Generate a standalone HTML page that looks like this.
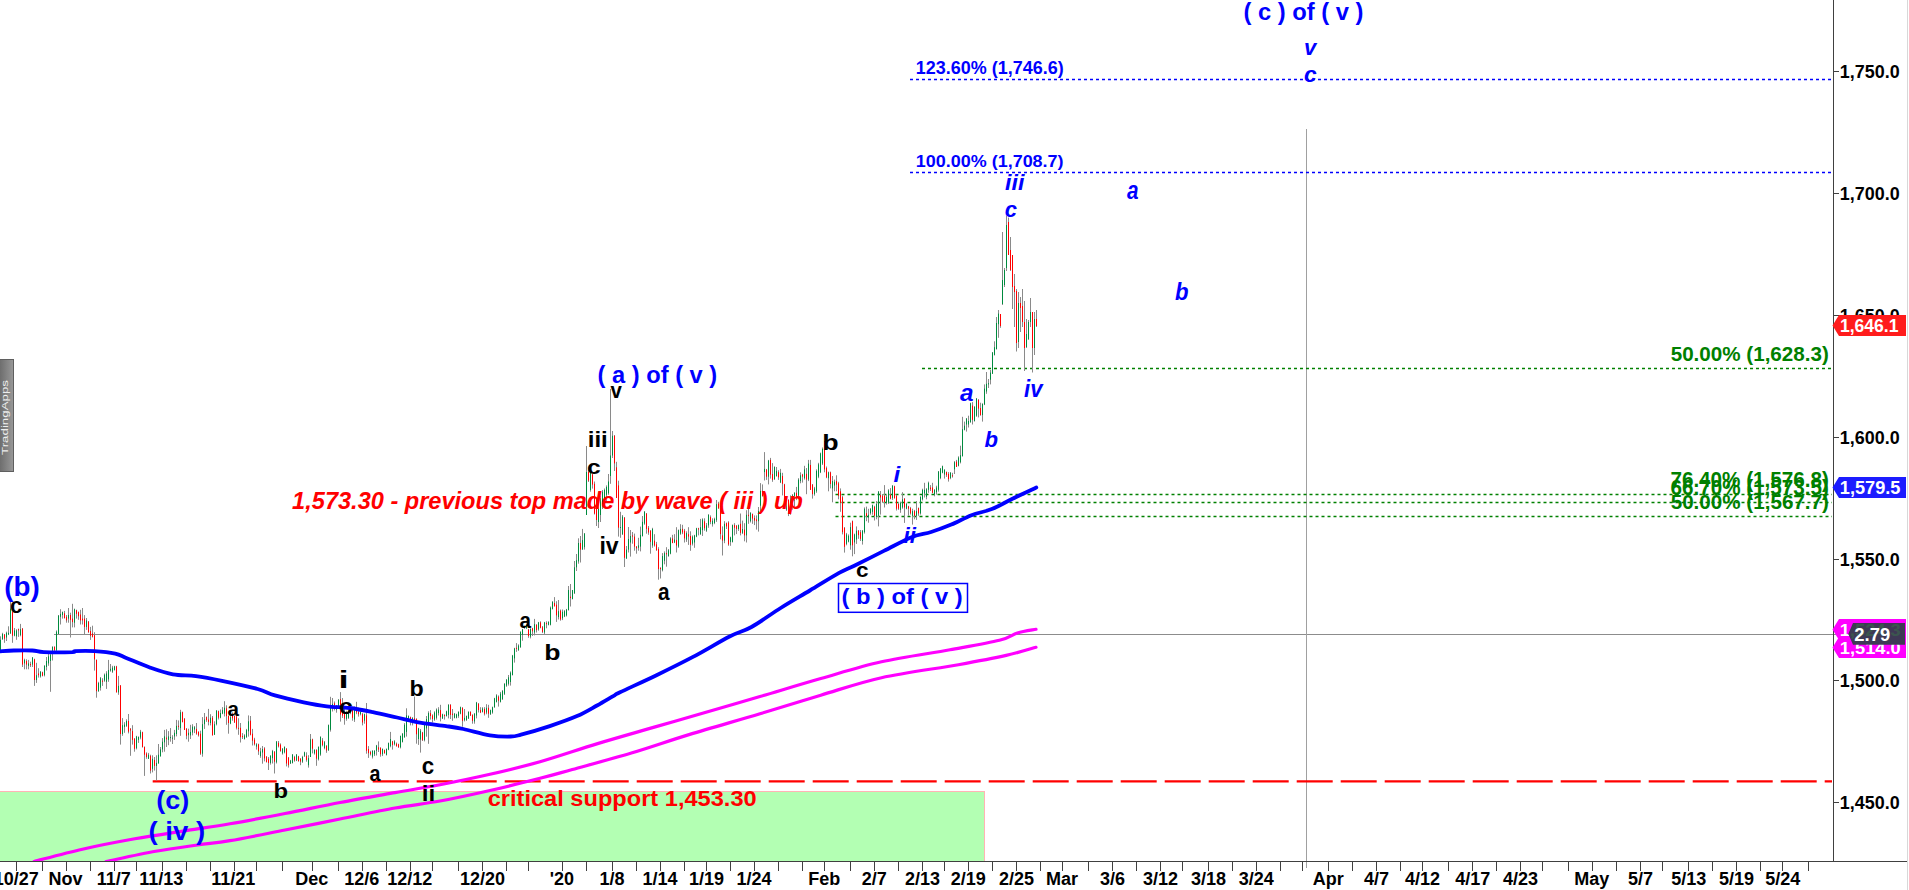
<!DOCTYPE html>
<html><head><meta charset="utf-8"><title>Chart</title>
<style>html,body{margin:0;padding:0;background:#fff;overflow:hidden;width:1909px;height:890px}svg{display:block}text{font-family:"Liberation Sans",sans-serif}</style>
</head><body><svg width="1909" height="890" viewBox="0 0 1909 890" font-family="Liberation Sans, sans-serif"><rect x="0" y="0" width="1909" height="890" fill="#ffffff"/><rect x="0" y="791" width="985" height="70" fill="#b3ffb3"/><rect x="0" y="791" width="985" height="1" fill="#ffb4b4"/><rect x="984" y="791" width="1" height="70" fill="#ffb4b4"/><rect x="54" y="634" width="1794" height="1" fill="#8c8c8c"/><rect x="1306" y="129" width="1" height="739" fill="#a0a0a0"/><line x1="910" y1="79.5" x2="1832" y2="79.5" stroke="#0000ff" stroke-width="1.5" stroke-dasharray="3 3"/><line x1="910" y1="172.5" x2="1832" y2="172.5" stroke="#0000ff" stroke-width="1.5" stroke-dasharray="3 3"/><line x1="922" y1="368.5" x2="1832" y2="368.5" stroke="#008000" stroke-width="1.5" stroke-dasharray="3 3"/><line x1="835.5" y1="494.5" x2="1832" y2="494.5" stroke="#008000" stroke-width="1.5" stroke-dasharray="3 3"/><line x1="835.5" y1="502.5" x2="1832" y2="502.5" stroke="#008000" stroke-width="1.5" stroke-dasharray="3 3"/><line x1="835.5" y1="516.5" x2="1832" y2="516.5" stroke="#008000" stroke-width="1.5" stroke-dasharray="3 3"/><line x1="152.7" y1="781.3" x2="1832" y2="781.3" stroke="#ff0000" stroke-width="2.2" stroke-dasharray="36 8"/><path d="M0.5 636.3V650.5M2.5 632.8V639.8M4.5 634V642.8M6.5 631.6V641M8.5 626.3V635.1M10.5 602V634M12.5 611.5V642.8M14.5 628V636.3M16.5 629.2V639.8M18.5 628.6V636.9M20.5 623.9V636.3M22.5 628V667M24.5 658.7V669.3M26.5 659.3V669.3M28.5 659.9V669.3M30.5 661.7V667M32.5 657V667M34.5 658.7V685.9M36.5 662.8V682.9M38.5 668.2V677.6M40.5 671.1V677.6M42.5 671.7V676.4M44.5 665.2V676.4M46.5 657V670.5M48.5 654V665.8M50.5 654V691.8M52.5 646.3V660.5M54.5 646.3V650.5M56.5 630.4V650.5M58.5 615V634M60.5 609.2V624.5M62.5 611.5V618.6M64.5 610.9V618.6M66.5 615V622.7M68.5 608V622.7M70.5 612.7V637.5M72.5 603.8V627.4M74.5 608.6V627.4M76.5 609.7V618.6M78.5 611.5V619.8M80.5 609.8V624.5M82.5 608V624.5M84.5 615.1V634.6M86.5 618V629.9M88.5 621V632.8M90.5 626.9V639.9M92.5 625.7V637.5M94.5 632.2V670.6M96.5 659.4V697.7M98.5 681.8V691.8M100.5 677V690.6M102.5 678.2V685.9M104.5 673.5V681.8M106.5 671.2V688.9M108.5 659.9V681.8M110.5 664V671.7M112.5 665.8V672.9M114.5 665.8V670.6M116.5 665.8V692.4M118.5 675.9V694.8M120.5 685.3V744.6M122.5 718.1V735.8M124.5 722.2V732.8M126.5 719.3V726.9M128.5 714V733.4M130.5 728.1V755.8M132.5 725.2V744.6M134.5 738.1V751.7M136.5 735.8V749.4M138.5 736.4V742.9M140.5 729.9V739.3M142.5 731.7V747.6M144.5 746.4V775.9M146.5 752.3V758.8M148.5 752.9V758.8M150.5 754.7V773.5M152.5 755.3V772.4M154.5 757V770.6M156.5 755.3V780.6M158.5 744V763.5M160.5 747V756.4M162.5 738.1V752.3M164.5 729.9V751.7M166.5 729.3V747M168.5 731.1V745.2M170.5 728.1V741.7M172.5 735.2V744M174.5 729.9V739.9M176.5 719.9V736.4M178.5 720.4V729.9M180.5 709.8V735.8M182.5 711.6V722.2M184.5 718.1V729.9M186.5 728.1V739.3M188.5 728.7V741.7M190.5 724.8V739M192.5 724.2V735.4M194.5 726V733.1M196.5 723V734.8M198.5 731.3V736.6M200.5 730.7V754.9M202.5 717.1V756.7M204.5 713V728.9M206.5 716.5V721.9M208.5 708.9V725.4M210.5 714.2V725.4M212.5 716V735.4M214.5 721.3V734.8M216.5 710.1V725.4M218.5 710.6V719.5M220.5 709.5V718.3M222.5 707.1V714.2M224.5 701.2V716.5M226.5 705.3V724.8M228.5 715.4V733.7M230.5 713V724.2M232.5 712.4V720.7M234.5 715.4V723M236.5 716V729.5M238.5 718.3V734.8M240.5 723V742.5M242.5 733.1V739M244.5 734.2V739.6M246.5 728.9V737.8M248.5 715.4V736.6M250.5 716V735.4M252.5 728.9V745.5M254.5 737.8V745.5M256.5 743.1V749.6M258.5 743.7V754.9M260.5 747.8V757.8M262.5 746V763.7M264.5 747.2V761.4M266.5 756.1V762.6M268.5 757V770M270.5 755.2V764.6M272.5 749.9V763.5M274.5 751.1V773.5M276.5 741V763.5M278.5 741V747.5M280.5 743.4V751.7M282.5 748.1V754.6M284.5 746.4V753.4M286.5 748.1V766.4M288.5 757V767.6M290.5 759.9V764M292.5 754V763.5M294.5 755.8V761.7M296.5 754V761.1M298.5 755.8V761.7M300.5 758.2V765.2M302.5 755.8V762.9M304.5 751.7V757M306.5 752.3V761.7M308.5 755.2V767.6M310.5 734V757M312.5 738.7V753.4M314.5 749.3V754.6M316.5 749.3V765.8M318.5 746.4V760.5M320.5 736.3V755.8M322.5 738.1V746.4M324.5 741V749.3M326.5 745.2V752.8M328.5 724.5V750.5M330.5 696.8V731.6M332.5 698V711.5M334.5 701.5V710.4M336.5 705.1V712.7M338.5 699.2V708M340.5 692.1V721.6M342.5 698V718M344.5 707V724.7M346.5 710.7V720.7M348.5 710.1V718.9M350.5 708.3V714.2M352.5 707.7V720.7M354.5 706.5V721.9M356.5 701.8V714.2M358.5 707.7V716.6M360.5 711.3V715.4M362.5 713V725.4M364.5 713.6V723.7M366.5 703V753.7M368.5 746.1V757.9M370.5 750.8V755.5M372.5 750.2V758.5M374.5 750.2V756.1M376.5 744.9V755.5M378.5 741.4V752M380.5 747.3V756.7M382.5 748.4V756.1M384.5 749.6V753.7M386.5 748.4V755.5M388.5 742.5V750.2M390.5 731.9V747.3M392.5 740.8V749.6M394.5 740.2V745.5M396.5 742.5V746.7M398.5 743.7V747.8M400.5 735.5V748.4M402.5 733.1V742.5M404.5 723.1V737.8M406.5 708.3V736.6M408.5 715.4V721.9M410.5 716.6V725.4M412.5 717.2V725.4M414.5 696.5V721.3M416.5 718.3V743.7M418.5 727.8V744.9M420.5 729V752.6M422.5 731.9V741M424.5 723.7V741.4M426.5 716V736.7M428.5 711.3V743.8M430.5 710.1V719.6M432.5 714.3V722.5M434.5 711.3V720.8M436.5 708.4V719.6M438.5 707.2V715.5M440.5 704.8V721.4M442.5 713.7V719M444.5 714.3V719.6M446.5 710.7V716.6M448.5 704.2V718.4M450.5 704.2V719M452.5 709V720.8M454.5 713.1V718.4M456.5 713.7V718.4M458.5 711.3V717.8M460.5 706.6V714.3M462.5 707.2V726.7M464.5 709V721.4M466.5 715.5V720.8M468.5 711.3V719M470.5 711.3V716M472.5 714.3V723.7M474.5 713.1V723.7M476.5 701.9V718.4M478.5 703.1V712.5M480.5 707.2V713.1M482.5 707.2V712.5M484.5 707.2V715.5M486.5 704.2V714.3M488.5 704.8V717.8M490.5 709.6V714.9M492.5 706.6V713.7M494.5 697.8V707.8M496.5 694.2V702.5M498.5 695.4V706.6M500.5 691.9V702.5M502.5 690V700M504.5 683.2V695M506.5 679.1V686.8M508.5 675V685.6M510.5 671.4V685.6M512.5 654.9V675.5M514.5 647.8V662.6M516.5 643.1V651.9M518.5 644.3V650.8M520.5 631.3V647.8M522.5 628.9V640.7M524.5 625.4V628.9M526.5 624.2V628.9M528.5 628.9V637.8M530.5 628.3V638.4M532.5 627.8V636M534.5 618.9V635.4M536.5 624.2V632.5M538.5 621.9V630.7M540.5 621.3V628.3M542.5 626V633.1M544.5 621.9V634.2M546.5 621.3V628.3M548.5 621.3V625.4M550.5 606.5V625.4M552.5 601.2V609.5M554.5 597.1V605.9M556.5 601.2V621.9M558.5 600V619.5M560.5 609.5V620.7M562.5 609.5V620.1M564.5 610.1V617.1M566.5 608.9V616.5M568.5 586V610.6M570.5 584V606.5M572.5 590V599.4M574.5 561V594M576.5 554V571M578.5 538.3V563.7M580.5 536V562.5M582.5 528.9V549.6M584.5 533V549.6M586.5 446V515M588.5 469.7V482M590.5 470.5V491.7M592.5 473.6V488.6M594.5 481.5V514.5M596.5 497V526M598.5 496.4V528M600.5 495.6V522M602.5 490V509M604.5 488.5V502.7M606.5 485.4V501M608.5 474V494.8M610.5 389V483.8M612.5 431V458M614.5 435V471M616.5 461.8V498M618.5 480.7V536.6M620.5 511.8V537.8M622.5 515V535M624.5 517V567M626.5 546V559M628.5 527V552.5M630.5 530V556.6M632.5 532V543.7M634.5 533.6V550.7M636.5 546V553.7M638.5 537.8V550.7M640.5 526.6V551.4M642.5 516V536.6M644.5 511V524.8M646.5 513V533.7M648.5 526V534.8M650.5 530.1V553.7M652.5 527.8V547.8M654.5 534.2V546.6M656.5 541.9V550.8M658.5 547.2V579.7M660.5 567.3V578.5M662.5 553.1V571.4M664.5 551.4V564.3M666.5 547.2V566.7M668.5 549V556.7M670.5 537.2V554.3M672.5 534.8V543.1M674.5 534.2V543.1M676.5 527.2V552.5M678.5 529.5V547.8M680.5 524.2V534.8M682.5 524.8V534.2M684.5 528.9V542.5M686.5 531.3V541.9M688.5 527.2V544.9M690.5 531.3V550.8M692.5 535.4V545.5M694.5 534.8V547.8M696.5 527.8V537.2M698.5 527.8V535.4M700.5 518.9V534.8M702.5 518.3V536M704.5 518.3V530.7M706.5 523V531.9M708.5 514.2V527.8M710.5 515.4V524.2M712.5 518.3V526.6M714.5 517.7V524.2M716.5 500V521.9M718.5 501.8V508.9M720.5 505.7V539.3M722.5 526.4V555.5M724.5 521.2V543.2M726.5 522.5V529M728.5 521.2V545.8M730.5 536.7V545.8M732.5 524.5V542.5M734.5 523.2V535.4M736.5 525.1V534.1M738.5 524.5V530.9M740.5 513.5V535.4M742.5 520.6V534.1M744.5 523.2V541.3M746.5 510.2V542.5M748.5 503.1V523.8M750.5 512.2V522.5M752.5 513.5V523.8M754.5 515.4V525.1M756.5 515.4V529.6M758.5 507V531.6M760.5 483.1V510.9M762.5 484.4V496.7M764.5 452.1V480.5M766.5 468.9V479.9M768.5 459.9V484.4M770.5 457.9V478.6M772.5 463.1V481.8M774.5 466.3V479.9M776.5 467V476.7M778.5 470.2V479.9M780.5 468.9V483.1M782.5 472.8V495.4M784.5 483.8V503.8M786.5 498.6V510.9M788.5 499.3V516.1M790.5 495.4V514.8M792.5 494.1V509.6M794.5 492.2V507M796.5 486.9V500.1M798.5 478.2V497.2M800.5 472.3V483.3M802.5 473.8V482.6M804.5 465.8V479.6M806.5 468V494.2M808.5 459.9V481.1M810.5 459.9V489.9M812.5 484V498.6M814.5 486.9V495.7M816.5 469.4V492.8M818.5 462.8V478.2M820.5 452.6V473.1M822.5 447.5V465M824.5 441V472.3M826.5 466.5V478.2M828.5 471.6V491.3M830.5 471.6V488.4M832.5 476V502.3M834.5 479.6V491.3M836.5 475.3V491.3M838.5 481.8V499.3M840.5 488.4V511.8M842.5 495.7V534.4M844.5 527.1V552.6M846.5 532.9V545.3M848.5 534.4V542.4M850.5 522.7V549.7M852.5 520.5V556.3M854.5 533.6V554.1M856.5 526.4V543.9M858.5 530V538.8M860.5 530V541M862.5 530V544.6M864.5 507.4V533.6M866.5 506.6V521.2M868.5 508.8V522.7M870.5 508.1V514.7M872.5 504.5V514.7M874.5 505.8V520.5M876.5 501V519.3M878.5 491V526.4M880.5 491V514.6M882.5 494V502.8M884.5 485.1V507.5M886.5 494.6V504.6M888.5 489.2V504M890.5 488.1V499.3M892.5 485.1V499.9M894.5 485.7V498.7M896.5 494.6V510.5M898.5 502.8V509.9M900.5 501.6V512.8M902.5 492.2V508.7M904.5 498.1V522.9M906.5 502.8V509.3M908.5 505.8V515.8M910.5 506.9V514.6M912.5 508.7V524.6M914.5 509.9V519.3M916.5 501V519.9M918.5 507.5V515.8M920.5 496.3V514.6M922.5 488.7V500.5M924.5 482.8V497.5M926.5 488.1V499.3M928.5 481.6V492.8M930.5 485.1V491M932.5 482.8V493.4M934.5 489.2V496.3M936.5 485.7V494.6M938.5 471V491.6M940.5 468V479.2M942.5 465.6V473.3M944.5 469.2V478.6M946.5 471.5V476.9M948.5 472.1V481.6M950.5 472.1V479.2M952.5 472.8V477.6M954.5 461.1V474M956.5 459.9V466.9M958.5 456.3V466.4M960.5 445.7V463.4M962.5 416.8V456.3M964.5 421.6V430.4M966.5 418V431.6M968.5 415.7V427.5M970.5 402.7V422.7M972.5 402.1V424.5M974.5 406.2V421.6M976.5 398V416.8M978.5 399.2V417.4M980.5 402.7V415.7M982.5 403.3V421.6M984.5 384.4V405.1M986.5 372V393.8M988.5 379V388M990.5 370V384.4M992.5 352V373.8M994.5 341.3V355.5M996.5 317V349.6M998.5 310V337.8M1000.5 314V327.8M1002.5 232V305M1004.5 268V287M1006.5 215.5V271M1008.5 217.6V255M1010.5 237V271M1012.5 255V309M1014.5 274V327M1016.5 289V351.5M1018.5 292V348M1020.5 297V332M1022.5 289V327M1024.5 301V371M1026.5 319V348M1028.5 320V340M1030.5 298V327M1032.5 312V372.5M1034.5 312V355M1036.5 310V327" stroke="#8a8a8a" stroke-width="1" fill="none"/><path d="M0.5 639.8V650.5M2.5 634V639.2M6.5 632.8V637.5M8.5 632.8V634.5M10.5 608.6V633.3M14.5 630.4V635.7M16.5 630.4V636.3M20.5 629.2V635.1M24.5 659.9V663.4M28.5 663.4V665.8M32.5 657.5V664.6M36.5 675.2V680M40.5 671.7V676.4M44.5 665.8V675.2M46.5 661V667M48.5 656.4V663.4M50.5 654.6V661M52.5 646.9V650.5M56.5 631.6V650.5M58.5 615.6V634M60.5 613.9V616.8M62.5 612.1V615M68.5 615V618.6M74.5 609.2V622.7M86.5 620.4V626.9M98.5 683V691.2M100.5 678.2V687.7M104.5 674.7V680.6M106.5 673.5V681.8M108.5 670V679.4M110.5 668.8V670.6M112.5 667.6V671.7M114.5 666.4V670M118.5 685.9V692.4M122.5 725.2V734M124.5 724.6V726.9M126.5 721V725.8M136.5 736.4V748.2M138.5 737V739.9M140.5 731.7V737.6M148.5 754.7V758.8M152.5 758.8V768.8M156.5 762.9V765.9M158.5 754.7V763.5M160.5 749.4V756.4M162.5 741.7V749.4M164.5 736.4V742.3M168.5 736.4V739.9M170.5 737V738.1M172.5 737.6V738.7M174.5 732.8V736.4M176.5 725.8V734M180.5 712.2V728.1M188.5 732.8V735.2M190.5 731.9V735.4M192.5 726.6V732.5M194.5 727.2V729.5M202.5 724.2V753.7M204.5 719.5V724.2M210.5 717.7V723M214.5 724.2V734.8M216.5 710.6V724.2M220.5 713V717.7M222.5 710.1V713.6M224.5 707.7V713.6M230.5 717.1V723.6M244.5 735.4V739M246.5 730.1V737.2M248.5 721.3V731.3M256.5 744.3V746.6M260.5 751.4V756.1M262.5 749V752.5M270.5 755.8V762.9M272.5 751.1V758.2M276.5 741.6V762.3M282.5 748.7V753.4M284.5 746.9V752.3M290.5 760.5V763.5M292.5 754.6V762.9M296.5 754.6V760.5M302.5 757V761.7M304.5 752.3V755.8M308.5 758.2V765.2M310.5 739.3V757M314.5 749.9V753.4M318.5 746.9V759.3M320.5 736.9V754.6M324.5 742.2V748.1M328.5 725.1V750.5M330.5 706.8V729.8M332.5 703.9V708.6M336.5 705.6V709.8M338.5 699.7V707.4M346.5 713V718.9M348.5 713V717.8M350.5 709.5V713M354.5 709.5V719.5M360.5 711.9V714.2M364.5 714.2V720.7M372.5 750.8V756.7M374.5 750.8V754.3M376.5 745.5V750.8M382.5 749V754.3M386.5 749V754.9M388.5 743.1V749.6M390.5 739V746.1M394.5 741.4V744.3M400.5 736V747.3M402.5 733.7V741.9M404.5 724.8V737.2M406.5 715.4V731.9M408.5 716V720.1M412.5 717.8V722.5M418.5 728.4V739M420.5 730.7V739.6M424.5 724.9V740.2M426.5 719V728.4M428.5 713.1V723.7M434.5 712.5V719.6M436.5 709.6V717.8M438.5 709.6V713.1M442.5 714.3V718.4M446.5 711.3V716M448.5 704.8V714.9M454.5 713.7V717.8M456.5 714.3V717.8M458.5 711.9V716M460.5 707.2V713.7M464.5 717.8V720.2M466.5 716V720.2M468.5 711.9V718.4M474.5 713.7V721.4M476.5 702.5V715.5M482.5 708.4V711.9M486.5 707.8V712.5M490.5 710.1V714.3M492.5 707.2V712.5M494.5 698.3V707.2M496.5 695.4V701.9M500.5 693.6V701.9M502.5 691V699M504.5 683.8V693.8M506.5 679.7V685.6M508.5 677.3V683.8M510.5 672.6V682M512.5 655.5V675M514.5 648.4V658.4M518.5 645.5V650.2M520.5 631.9V647.2M522.5 629.5V634.8M526.5 625.4V628.3M530.5 628.9V636.6M534.5 624.2V632.5M538.5 622.4V629.5M544.5 622.4V632.5M548.5 621.9V624.8M550.5 607.7V624.8M552.5 601.8V608.9M558.5 611.2V617.1M562.5 611.8V618.3M564.5 611.2V616.5M566.5 609.5V615.4M568.5 590V610M572.5 590V599M574.5 567.3V593.2M576.5 560.2V567.3M578.5 543V561.4M582.5 540.1V549.6M584.5 533.6V547.2M586.5 472V515M590.5 471.2V490M598.5 500V522M600.5 498V515M602.5 491.7V504.3M604.5 490V499.6M606.5 487V494.8M608.5 481.5V493.3M610.5 455.5V476M612.5 435.8V455.5M620.5 527V528M622.5 516.5V534.2M626.5 549.6V558.4M628.5 539V549.6M630.5 536V542.5M638.5 545.4V547.8M640.5 534.8V546.6M642.5 521.8V536M644.5 511.8V523.6M652.5 528.9V545.5M662.5 556.1V570.2M664.5 553.1V560.8M668.5 550.2V556.1M670.5 538.4V553.7M674.5 539.6V542.5M678.5 530.1V546.6M680.5 528.9V533.7M686.5 533.1V539.6M692.5 536.6V543.7M694.5 535.4V542.5M696.5 528.3V536.6M700.5 527.2V534.2M702.5 519.5V530.1M706.5 525.4V530.7M708.5 514.8V525.4M712.5 520.7V524.2M714.5 518.9V523M716.5 504.2V520.1M724.5 523.8V540.6M730.5 537.4V541.9M732.5 525.1V541.9M738.5 525.1V529M742.5 529V532.9M746.5 514.8V535.4M750.5 512.8V521.2M758.5 510.9V521.2M760.5 490.9V505.7M764.5 468.9V472.1M768.5 460.5V476.7M774.5 467V479.2M776.5 470.8V476M780.5 472.8V482.5M786.5 499.3V509.6M792.5 495.4V503.1M794.5 492.8V500.6M798.5 479.6V495.7M800.5 475.3V481.1M804.5 469.4V478.2M808.5 463.6V479.6M814.5 488.4V494.2M816.5 470.9V491.3M818.5 464.3V476.7M820.5 453.4V472.3M822.5 449V463.6M828.5 472.3V478.2M832.5 481.1V488.4M834.5 481.8V485.5M846.5 534.4V543.9M848.5 535.8V541.7M850.5 527.1V545.3M854.5 534.4V542.4M856.5 530.7V539.5M862.5 530.7V541M864.5 508.8V532.2M868.5 514.7V517.6M870.5 508.8V513.2M872.5 505.2V511.8M876.5 504V517M878.5 491.6V515.8M886.5 496.9V502.8M888.5 490.4V502.8M892.5 485.7V498.1M900.5 502.8V509.9M902.5 499.3V507.5M906.5 504V508.7M912.5 511.1V515.8M916.5 511.1V515.8M920.5 496.9V513.4M922.5 489.8V499.3M924.5 489.8V493.4M926.5 489.2V496.9M928.5 482.8V489.8M934.5 489.8V494.6M936.5 487.5V492.2M938.5 471.5V489.8M940.5 468.6V478M942.5 466.2V472.7M944.5 469.8V474.5M950.5 472.7V478M954.5 462.2V469.3M958.5 457.5V465.8M960.5 455.2V462.2M962.5 429.2V456.3M964.5 425.7V429.8M966.5 418.6V424.5M968.5 421V424.5M970.5 403.3V422.2M974.5 406.8V421M976.5 398.6V415.7M982.5 403.9V415.1M984.5 388.6V404.5M986.5 383.8V391.5M988.5 383.2V384.4M990.5 372.6V379.7M992.5 352.5V373.8M994.5 347.2V354.9M996.5 323V349M998.5 313.6V324.2M1002.5 280V304M1004.5 270V285M1006.5 225V268M1018.5 303V342M1026.5 334V347M1028.5 322V339M1030.5 312V322M1034.5 319V348" stroke="#008a3e" stroke-width="1" fill="none"/><path d="M4.5 634.5V638.7M12.5 612.1V635.7M18.5 629.2V630.4M22.5 628.6V664.6M26.5 661V664.6M30.5 664V665.2M34.5 659.3V680M38.5 673.5V675.2M42.5 672.3V675.8M54.5 646.9V650.5M64.5 613.3V618M66.5 616.8V620.4M70.5 615V619.8M72.5 618.6V622.1M76.5 610.3V613.9M78.5 612.1V616.2M80.5 614.5V620.4M82.5 618.6V620.4M84.5 618.6V626.9M88.5 621.6V632.2M90.5 631V635.8M92.5 633.4V636.9M94.5 635.2V659.4M96.5 660V691.2M102.5 680.6V681.8M116.5 666.4V692.4M120.5 685.3V734M128.5 721V731.7M130.5 728.7V730.5M132.5 731.1V739.9M134.5 738.7V748.8M142.5 732.2V747M144.5 747V754.7M146.5 753.5V757M150.5 755.8V770.6M154.5 760V765.9M166.5 737.6V739.3M178.5 725.8V726.9M182.5 712.2V722.2M184.5 718.7V729.9M186.5 728.7V735.8M196.5 728.9V733.7M198.5 731.9V735.4M200.5 733.7V753.7M206.5 717.1V720.1M208.5 719.5V721.9M212.5 717.7V735.4M218.5 711.2V717.7M226.5 708.3V716M228.5 716V723M232.5 713.6V718.3M234.5 716V722.4M236.5 716.5V727.8M238.5 727.8V728.9M240.5 727.8V737.2M242.5 736V737.2M250.5 720.7V734.8M252.5 733.7V740.7M254.5 739.6V744.3M258.5 744.3V751.4M264.5 748.4V758.4M266.5 756.7V762M268.5 758.7V762.9M274.5 751.7V761.7M278.5 742.8V746.4M280.5 744.6V751.1M286.5 748.7V763.5M288.5 757.6V765.2M294.5 757V760.5M298.5 756.4V761.1M300.5 758.7V761.7M306.5 755.8V759.9M312.5 739.3V748.7M316.5 749.9V758.7M322.5 740.5V745.2M326.5 745.8V750.5M334.5 703.3V705.1M340.5 699.2V714.5M342.5 703.9V715.7M344.5 713.9V718.6M352.5 708.9V717.8M356.5 708.9V712.4M358.5 711.9V714.2M362.5 714.2V722.5M366.5 715.4V750.8M368.5 749V753.2M370.5 752V754.3M378.5 747.3V749.6M380.5 747.8V754.3M384.5 750.2V753.2M392.5 741.4V744.9M396.5 743.7V746.1M398.5 744.3V747.3M410.5 717.2V721.9M414.5 718.3V720.7M416.5 718.9V734.3M422.5 732.5V740.2M430.5 713.1V716M432.5 715.5V719M440.5 710.1V717.2M444.5 714.9V716M450.5 704.8V714.9M452.5 713.7V714.9M462.5 707.8V720.8M470.5 711.9V715.5M472.5 714.9V720.8M478.5 703.7V710.1M480.5 710.1V712.5M484.5 709V713.7M488.5 707.8V713.7M498.5 696.6V700.7M516.5 647.8V649M524.5 626.6V627.8M528.5 629.5V636M532.5 628.3V631.3M536.5 624.8V630.1M540.5 622.4V627.8M542.5 627.2V631.9M546.5 623V624.2M554.5 603V606.5M556.5 604.7V615.4M560.5 610.6V619.5M570.5 596.7V598M580.5 543V549.6M588.5 472V480.7M592.5 474.4V484.6M594.5 483.8V513.7M596.5 499.6V520M614.5 435.8V463.4M616.5 467.3V498M618.5 485.4V527.7M624.5 517.7V557.8M632.5 535.4V536.6M634.5 536.6V546.6M636.5 546.6V548.4M646.5 513.6V528.9M648.5 527.8V532.5M650.5 530.7V541.9M654.5 540.7V545.5M656.5 544.3V550.2M658.5 549V569.1M660.5 567.9V569.1M666.5 553.1V554.3M672.5 538.4V543.1M676.5 540.1V545.5M682.5 528.9V532.5M684.5 530.7V538.4M688.5 534.2V536.6M690.5 536V544.9M698.5 528.3V529.5M704.5 521.3V528.3M710.5 517.1V521.9M718.5 503.6V508.3M720.5 506.4V534.1M722.5 535.4V540.6M726.5 523.2V526.4M728.5 522.5V544.5M734.5 525.1V527.7M736.5 525.7V529M740.5 523.8V532.9M744.5 529.6V535.4M748.5 514.8V516.1M752.5 514.1V518.6M754.5 518V520.6M756.5 519.3V521.2M762.5 490.9V496M766.5 469.5V476.7M770.5 459.9V474.7M772.5 474.1V479.9M778.5 472.1V477.3M782.5 476V483.8M784.5 484.4V503.1M788.5 499.9V513.5M790.5 503.1V512.8M796.5 492.8V498.6M802.5 474.5V476.7M806.5 473.8V479.6M810.5 465V489.9M812.5 484.7V494.2M824.5 441.7V469.4M826.5 468V477.4M830.5 472.3V484M836.5 481.1V484.7M838.5 483.3V495.7M840.5 491.3V503M842.5 497.2V532.2M844.5 527.8V546.8M852.5 521.2V545.3M858.5 530.7V535.1M860.5 532.2V538.8M866.5 513.2V516.1M874.5 506.9V515.8M880.5 495.1V497.5M882.5 495.7V501.6M884.5 495.7V502.2M890.5 494.6V498.7M894.5 486.3V498.1M896.5 495.7V508.7M898.5 504V508.7M904.5 498.7V507.5M908.5 506.4V508.7M910.5 508.1V513.4M914.5 511.1V515.8M918.5 508.1V513.4M930.5 487.5V489.2M932.5 487.5V492.8M946.5 472.1V475.1M948.5 473.9V479.2M952.5 475.2V476.4M956.5 461.6V466.9M972.5 405.6V419.8M978.5 399.8V408.6M980.5 408V415.1M1000.5 314V326M1008.5 222V255M1010.5 250V270M1012.5 255V287M1014.5 286V292M1016.5 291V343M1020.5 303V308M1022.5 306V322M1024.5 322V348M1032.5 312V348M1036.5 319V326" stroke="#ff0000" stroke-width="1" fill="none"/><g clip-path="url(#plot)"><path d="M34 861.5C42.07 859.45 65.6 852.98 82.4 849.2C99.2 845.42 117.33 841.93 134.8 838.8C152.27 835.67 171.33 832.91 187.2 830.4C203.07 827.89 213.7 826.57 230 823.75C246.3 820.93 266.67 817.04 285 813.5C303.33 809.96 321.67 805.98 340 802.5C358.33 799.02 378.33 795.56 395 792.6C411.67 789.64 424.17 787.8 440 784.75C455.83 781.7 473.33 778.13 490 774.3C506.67 770.47 522.07 766.87 540 761.75C557.93 756.63 578.4 749.41 597.6 743.6C616.8 737.79 635.98 732.47 655.2 726.9C674.42 721.33 695.43 715.27 712.9 710.2C730.37 705.13 742.02 701.78 760 696.5C777.98 691.22 800.55 684.28 820.8 678.5C841.05 672.72 859.97 666.58 881.5 661.8C903.03 657.02 930.35 653.38 950 649.8C969.65 646.22 988.17 643.1 999.4 640.3C1010.63 637.5 1011.3 634.83 1017.4 633C1023.5 631.17 1032.9 629.92 1036 629.3" fill="none" stroke="#ff00ff" stroke-width="3.2" stroke-linejoin="round" stroke-linecap="round"/><path d="M106 861.5C114.28 859.8 140.43 854.05 155.7 851.3C170.97 848.55 185.22 846.77 197.6 845C209.98 843.23 215.43 843.2 230 840.7C244.57 838.2 266.67 833.62 285 830C303.33 826.38 321.67 822.67 340 819C358.33 815.33 378.33 810.99 395 808C411.67 805.01 424.17 803.97 440 801.05C455.83 798.13 473.33 794.29 490 790.5C506.67 786.71 526.28 781.8 540 778.3C553.72 774.8 556.93 773.75 572.3 769.5C587.67 765.25 612.62 758.65 632.2 752.8C651.78 746.95 668.5 740.9 689.8 734.4C711.1 727.9 738.17 720.33 760 713.8C781.83 707.27 800.55 701.22 820.8 695.2C841.05 689.18 858.57 682.78 881.5 677.7C904.43 672.62 937.62 668.42 958.4 664.7C979.18 660.98 993.27 658.3 1006.2 655.4C1019.13 652.5 1031.03 648.65 1036 647.3" fill="none" stroke="#ff00ff" stroke-width="3.2" stroke-linejoin="round" stroke-linecap="round"/></g><path d="M0 651.3C2.3 651.17 8.42 650.63 13.8 650.5C19.18 650.37 27.3 650.23 32.3 650.5C37.3 650.77 37.08 651.83 43.8 652.1C50.52 652.37 67.42 652.27 72.6 652.1C77.78 651.93 71.25 651.27 74.9 651.1C78.55 650.93 87.78 650.68 94.5 651.1C101.22 651.52 109.82 652.42 115.2 653.6C120.58 654.78 121.03 655.88 126.8 658.2C132.57 660.52 142.12 664.8 149.8 667.5C157.48 670.2 165.22 672.97 172.9 674.4C180.58 675.83 187.72 675.03 195.9 676.1C204.08 677.17 211.72 678.65 222 680.8C232.28 682.95 248.78 686.57 257.6 689C266.42 691.43 267.22 693.18 274.9 695.4C282.58 697.62 295.05 700.48 303.7 702.3C312.35 704.12 319.12 705.35 326.8 706.3C334.48 707.25 342.12 707.03 349.8 708C357.48 708.97 365.03 710.52 372.9 712.1C380.77 713.68 389.15 715.73 397 717.5C404.85 719.27 411.82 721.27 420 722.7C428.18 724.13 438.87 725.05 446.1 726.1C453.33 727.15 456.1 727.47 463.4 729C470.7 730.53 482.03 734.05 489.9 735.3C497.77 736.55 505.42 736.6 510.6 736.5C515.78 736.4 514.47 736.43 521 734.7C527.53 732.97 540.47 729.2 549.8 726.1C559.13 723 569.13 719.53 577 716.1C584.87 712.67 590.97 708.83 597 705.5C603.03 702.17 609.37 698.3 613.2 696.1C617.03 693.9 612.78 695.78 620 692.3C627.22 688.82 644.33 681.1 656.5 675.2C668.67 669.3 680.82 663.35 693 656.9C705.18 650.45 719.85 641.48 729.6 636.5C739.35 631.52 742.98 631.75 751.5 627C760.02 622.25 770.97 614.08 780.7 608C790.43 601.92 800.17 596.35 809.9 590.5C819.63 584.65 831.7 577.03 839.1 572.9C846.5 568.77 846.83 569.37 854.3 565.7C861.77 562.03 874.47 555.62 883.9 550.9C893.33 546.18 903.03 540.55 910.9 537.4C918.77 534.25 924.37 534.13 931.1 532C937.83 529.87 944.57 527.4 951.3 524.6C958.03 521.8 964.75 517.78 971.5 515.2C978.25 512.62 985.05 511.8 991.8 509.1C998.55 506.4 1004.58 502.6 1012 499C1019.42 495.4 1032.25 489.42 1036.3 487.5" fill="none" stroke="#0000ff" stroke-width="3.8" stroke-linejoin="round" stroke-linecap="round"/><text transform="translate(292.12,509.3) scale(1.0164,1)" font-size="23.2" font-weight="bold" font-style="italic" fill="#ff0000">1,573.30 - previous top made by wave ( iii ) up</text><text transform="translate(487.68,806.19) scale(1.0431,1)" font-size="22.64" font-weight="bold" font-style="normal" fill="#ff0000">critical support 1,453.30</text><text transform="translate(4.32,596.16) scale(1.0398,1)" font-size="26.71" font-weight="bold" font-style="normal" fill="#0000ff">(b)</text><text transform="translate(156.36,808.68) scale(1.0145,1)" font-size="26.61" font-weight="bold" font-style="normal" fill="#0000ff">(c)</text><text transform="translate(148.43,839.78) scale(1.0357,1)" font-size="26.61" font-weight="bold" font-style="normal" fill="#0000ff">( iv )</text><text transform="translate(597.62,382.96) scale(0.9939,1)" font-size="23.82" font-weight="bold" font-style="normal" fill="#0000ff">( a ) of ( v )</text><text transform="translate(841.52,603.56) scale(1.0385,1)" font-size="22.85" font-weight="bold" font-style="normal" fill="#0000ff">( b ) of ( v )</text><text transform="translate(1243.42,19.9) scale(1.0063,1)" font-size="23.6" font-weight="bold" font-style="normal" fill="#0000ff">( c ) of ( v )</text><rect x="838.5" y="583.5" width="129" height="28.8" fill="none" stroke="#0000ff" stroke-width="1.5"/><text transform="translate(9.94,613.29) scale(1.0279,1)" font-size="21.54" font-weight="bold" font-style="normal" fill="#000000">c</text><text transform="translate(227.4,715.8) scale(1.0275,1)" font-size="20.08" font-weight="bold" font-style="normal" fill="#000000">a</text><text transform="translate(273.43,797.79) scale(1.1283,1)" font-size="21.11" font-weight="bold" font-style="normal" fill="#000000">b</text><text transform="translate(338.46,688) scale(1.5533,1)" font-size="23.46" font-weight="bold" font-style="normal" fill="#000000">i</text><text transform="translate(339.04,713.79) scale(1.1231,1)" font-size="21.9" font-weight="bold" font-style="normal" fill="#000000">c</text><text transform="translate(409.47,695.79) scale(1.0657,1)" font-size="21.79" font-weight="bold" font-style="normal" fill="#000000">b</text><text transform="translate(369.42,780.78) scale(0.8771,1)" font-size="22.45" font-weight="bold" font-style="normal" fill="#000000">a</text><text transform="translate(421.83,774.38) scale(0.9716,1)" font-size="23" font-weight="bold" font-style="normal" fill="#000000">c</text><text transform="translate(421.8,800.7) scale(1.1021,1)" font-size="22.08" font-weight="bold" font-style="normal" fill="#000000">ii</text><text transform="translate(519.4,628.48) scale(0.9264,1)" font-size="22.27" font-weight="bold" font-style="normal" fill="#000000">a</text><text transform="translate(544.25,659.78) scale(1.2055,1)" font-size="22.06" font-weight="bold" font-style="normal" fill="#000000">b</text><text transform="translate(610.52,398.4) scale(0.9231,1)" font-size="22.15" font-weight="bold" font-style="normal" fill="#000000">v</text><text transform="translate(587.72,447.4) scale(1.0848,1)" font-size="22.22" font-weight="bold" font-style="normal" fill="#000000">iii</text><text transform="translate(587.04,474.3) scale(1.1720,1)" font-size="20.99" font-weight="bold" font-style="normal" fill="#000000">c</text><text transform="translate(599.39,554) scale(0.9818,1)" font-size="23.46" font-weight="bold" font-style="normal" fill="#000000">iv</text><text transform="translate(657.99,599.77) scale(0.8773,1)" font-size="23.73" font-weight="bold" font-style="normal" fill="#000000">a</text><text transform="translate(822.23,449.79) scale(1.2297,1)" font-size="21.79" font-weight="bold" font-style="normal" fill="#000000">b</text><text transform="translate(856.12,577.4) scale(1.1130,1)" font-size="20.26" font-weight="bold" font-style="normal" fill="#000000">c</text><text transform="translate(1005.1,190) scale(1.0487,1)" font-size="22.08" font-weight="bold" font-style="italic" fill="#0000ff">iii</text><text transform="translate(1004.83,217.38) scale(0.9847,1)" font-size="22.27" font-weight="bold" font-style="italic" fill="#0000ff">c</text><text transform="translate(959.88,400.76) scale(1.0022,1)" font-size="24.28" font-weight="bold" font-style="italic" fill="#0000ff">a</text><text transform="translate(984.62,446.78) scale(0.9848,1)" font-size="22.47" font-weight="bold" font-style="italic" fill="#0000ff">b</text><text transform="translate(1024.12,396.7) scale(0.9611,1)" font-size="23.05" font-weight="bold" font-style="italic" fill="#0000ff">iv</text><text transform="translate(893.59,482) scale(1.0921,1)" font-size="22.08" font-weight="bold" font-style="italic" fill="#0000ff">i</text><text transform="translate(903.62,542.5) scale(1.0432,1)" font-size="21.39" font-weight="bold" font-style="italic" fill="#0000ff">ii</text><text transform="translate(1304.11,55.4) scale(0.9973,1)" font-size="22.15" font-weight="bold" font-style="italic" fill="#0000ff">v</text><text transform="translate(1304.1,81.68) scale(1.0283,1)" font-size="22.09" font-weight="bold" font-style="italic" fill="#0000ff">c</text><text transform="translate(1126.9,199.34) scale(0.7764,1)" font-size="26.65" font-weight="bold" font-style="italic" fill="#0000ff">a</text><text transform="translate(1175.12,299.76) scale(0.9027,1)" font-size="24.51" font-weight="bold" font-style="italic" fill="#0000ff">b</text><text transform="translate(915.87,73.99) scale(0.9793,1)" font-size="18.35" font-weight="bold" font-style="normal" fill="#0000ff">123.60% (1,746.6)</text><text transform="translate(915.87,166.79) scale(1.0338,1)" font-size="17.38" font-weight="bold" font-style="normal" fill="#0000ff">100.00% (1,708.7)</text><text transform="translate(1670.67,360.79) scale(1.0174,1)" font-size="20.28" font-weight="bold" font-style="normal" fill="#008000">50.00% (1,628.3)</text><text transform="translate(1670.41,487.47) scale(0.9678,1)" font-size="21.35" font-weight="bold" font-style="normal" fill="#008000">76.40% (1,576.8)</text><text transform="translate(1670.54,495.35) scale(0.9622,1)" font-size="21.46" font-weight="bold" font-style="normal" fill="#008000">66.70% (1,573.5)</text><text transform="translate(1670.67,508.97) scale(1.0120,1)" font-size="20.38" font-weight="bold" font-style="normal" fill="#008000">50.00% (1,567.7)</text><rect x="1833" y="0" width="1" height="861" fill="#404040"/><rect x="0" y="861" width="1907" height="1" fill="#404040"/><rect x="1907" y="0" width="1" height="890" fill="#d8d8d8"/><rect x="1834" y="71" width="5" height="1" fill="#404040"/><text transform="translate(1839.87,77.84) scale(0.9755,1)" font-size="18.39" font-weight="bold" font-style="normal" fill="#000000">1,750.0</text><rect x="1834" y="193" width="5" height="1" fill="#404040"/><text transform="translate(1839.87,199.84) scale(0.9755,1)" font-size="18.39" font-weight="bold" font-style="normal" fill="#000000">1,700.0</text><rect x="1834" y="315" width="5" height="1" fill="#404040"/><text transform="translate(1839.87,321.74) scale(0.9755,1)" font-size="18.39" font-weight="bold" font-style="normal" fill="#000000">1,650.0</text><rect x="1834" y="437" width="5" height="1" fill="#404040"/><text transform="translate(1839.87,443.64) scale(0.9755,1)" font-size="18.39" font-weight="bold" font-style="normal" fill="#000000">1,600.0</text><rect x="1834" y="559" width="5" height="1" fill="#404040"/><text transform="translate(1839.87,565.54) scale(0.9755,1)" font-size="18.39" font-weight="bold" font-style="normal" fill="#000000">1,550.0</text><rect x="1834" y="680" width="5" height="1" fill="#404040"/><text transform="translate(1839.87,687.44) scale(0.9755,1)" font-size="18.39" font-weight="bold" font-style="normal" fill="#000000">1,500.0</text><rect x="1834" y="802" width="5" height="1" fill="#404040"/><text transform="translate(1839.87,809.34) scale(0.9755,1)" font-size="18.39" font-weight="bold" font-style="normal" fill="#000000">1,450.0</text><rect x="16" y="862" width="1" height="9" fill="#404040"/><rect x="42" y="862" width="1" height="9" fill="#404040"/><rect x="66" y="862" width="1" height="9" fill="#404040"/><rect x="90" y="862" width="1" height="9" fill="#404040"/><rect x="114" y="862" width="1" height="9" fill="#404040"/><rect x="136" y="862" width="1" height="9" fill="#404040"/><rect x="162" y="862" width="1" height="9" fill="#404040"/><rect x="186" y="862" width="1" height="9" fill="#404040"/><rect x="210" y="862" width="1" height="9" fill="#404040"/><rect x="234" y="862" width="1" height="9" fill="#404040"/><rect x="256" y="862" width="1" height="9" fill="#404040"/><rect x="282" y="862" width="1" height="9" fill="#404040"/><rect x="312" y="862" width="1" height="9" fill="#404040"/><rect x="338" y="862" width="1" height="9" fill="#404040"/><rect x="362" y="862" width="1" height="9" fill="#404040"/><rect x="386" y="862" width="1" height="9" fill="#404040"/><rect x="410" y="862" width="1" height="9" fill="#404040"/><rect x="432" y="862" width="1" height="9" fill="#404040"/><rect x="458" y="862" width="1" height="9" fill="#404040"/><rect x="482" y="862" width="1" height="9" fill="#404040"/><rect x="506" y="862" width="1" height="9" fill="#404040"/><rect x="528" y="862" width="1" height="9" fill="#404040"/><rect x="562" y="862" width="1" height="9" fill="#404040"/><rect x="586" y="862" width="1" height="9" fill="#404040"/><rect x="612" y="862" width="1" height="9" fill="#404040"/><rect x="636" y="862" width="1" height="9" fill="#404040"/><rect x="660" y="862" width="1" height="9" fill="#404040"/><rect x="684" y="862" width="1" height="9" fill="#404040"/><rect x="706" y="862" width="1" height="9" fill="#404040"/><rect x="730" y="862" width="1" height="9" fill="#404040"/><rect x="754" y="862" width="1" height="9" fill="#404040"/><rect x="778" y="862" width="1" height="9" fill="#404040"/><rect x="802" y="862" width="1" height="9" fill="#404040"/><rect x="824" y="862" width="1" height="9" fill="#404040"/><rect x="850" y="862" width="1" height="9" fill="#404040"/><rect x="874" y="862" width="1" height="9" fill="#404040"/><rect x="898" y="862" width="1" height="9" fill="#404040"/><rect x="922" y="862" width="1" height="9" fill="#404040"/><rect x="944" y="862" width="1" height="9" fill="#404040"/><rect x="968" y="862" width="1" height="9" fill="#404040"/><rect x="992" y="862" width="1" height="9" fill="#404040"/><rect x="1016" y="862" width="1" height="9" fill="#404040"/><rect x="1040" y="862" width="1" height="9" fill="#404040"/><rect x="1062" y="862" width="1" height="9" fill="#404040"/><rect x="1088" y="862" width="1" height="9" fill="#404040"/><rect x="1112" y="862" width="1" height="9" fill="#404040"/><rect x="1136" y="862" width="1" height="9" fill="#404040"/><rect x="1160" y="862" width="1" height="9" fill="#404040"/><rect x="1182" y="862" width="1" height="9" fill="#404040"/><rect x="1208" y="862" width="1" height="9" fill="#404040"/><rect x="1232" y="862" width="1" height="9" fill="#404040"/><rect x="1256" y="862" width="1" height="9" fill="#404040"/><rect x="1280" y="862" width="1" height="9" fill="#404040"/><rect x="1302" y="862" width="1" height="9" fill="#404040"/><rect x="1328" y="862" width="1" height="9" fill="#404040"/><rect x="1352" y="862" width="1" height="9" fill="#404040"/><rect x="1376" y="862" width="1" height="9" fill="#404040"/><rect x="1400" y="862" width="1" height="9" fill="#404040"/><rect x="1422" y="862" width="1" height="9" fill="#404040"/><rect x="1448" y="862" width="1" height="9" fill="#404040"/><rect x="1472" y="862" width="1" height="9" fill="#404040"/><rect x="1496" y="862" width="1" height="9" fill="#404040"/><rect x="1520" y="862" width="1" height="9" fill="#404040"/><rect x="1542" y="862" width="1" height="9" fill="#404040"/><rect x="1568" y="862" width="1" height="9" fill="#404040"/><rect x="1592" y="862" width="1" height="9" fill="#404040"/><rect x="1616" y="862" width="1" height="9" fill="#404040"/><rect x="1640" y="862" width="1" height="9" fill="#404040"/><rect x="1662" y="862" width="1" height="9" fill="#404040"/><rect x="1688" y="862" width="1" height="9" fill="#404040"/><rect x="1712" y="862" width="1" height="9" fill="#404040"/><rect x="1736" y="862" width="1" height="9" fill="#404040"/><rect x="1760" y="862" width="1" height="9" fill="#404040"/><rect x="1782" y="862" width="1" height="9" fill="#404040"/><rect x="1808" y="862" width="1" height="9" fill="#404040"/><text x="-6.39" y="884.6" font-size="18" font-weight="bold" fill="#000">10/27</text><text x="48.44" y="884.6" font-size="18" font-weight="bold" fill="#000">Nov</text><text x="96.71" y="884.6" font-size="18" font-weight="bold" fill="#000">11/7</text><text x="139.24" y="884.6" font-size="18" font-weight="bold" fill="#000">11/13</text><text x="211.16" y="884.6" font-size="18" font-weight="bold" fill="#000">11/21</text><text x="295.15" y="884.6" font-size="18" font-weight="bold" fill="#000">Dec</text><text x="344.24" y="884.6" font-size="18" font-weight="bold" fill="#000">12/6</text><text x="387.27" y="884.6" font-size="18" font-weight="bold" fill="#000">12/12</text><text x="459.88" y="884.6" font-size="18" font-weight="bold" fill="#000">12/20</text><text x="549.84" y="884.6" font-size="18" font-weight="bold" fill="#000">&#39;20</text><text x="599.6" y="884.6" font-size="18" font-weight="bold" fill="#000">1/8</text><text x="642.56" y="884.6" font-size="18" font-weight="bold" fill="#000">1/14</text><text x="688.95" y="884.6" font-size="18" font-weight="bold" fill="#000">1/19</text><text x="736.56" y="884.6" font-size="18" font-weight="bold" fill="#000">1/24</text><text x="808.17" y="884.6" font-size="18" font-weight="bold" fill="#000">Feb</text><text x="861.87" y="884.6" font-size="18" font-weight="bold" fill="#000">2/7</text><text x="905" y="884.6" font-size="18" font-weight="bold" fill="#000">2/13</text><text x="950.81" y="884.6" font-size="18" font-weight="bold" fill="#000">2/19</text><text x="998.92" y="884.6" font-size="18" font-weight="bold" fill="#000">2/25</text><text x="1045.93" y="884.6" font-size="18" font-weight="bold" fill="#000">Mar</text><text x="1100.01" y="884.6" font-size="18" font-weight="bold" fill="#000">3/6</text><text x="1142.94" y="884.6" font-size="18" font-weight="bold" fill="#000">3/12</text><text x="1191.05" y="884.6" font-size="18" font-weight="bold" fill="#000">3/18</text><text x="1238.73" y="884.6" font-size="18" font-weight="bold" fill="#000">3/24</text><text x="1312.81" y="884.6" font-size="18" font-weight="bold" fill="#000">Apr</text><text x="1364.05" y="884.6" font-size="18" font-weight="bold" fill="#000">4/7</text><text x="1404.91" y="884.6" font-size="18" font-weight="bold" fill="#000">4/12</text><text x="1455.14" y="884.6" font-size="18" font-weight="bold" fill="#000">4/17</text><text x="1503.07" y="884.6" font-size="18" font-weight="bold" fill="#000">4/23</text><text x="1574.24" y="884.6" font-size="18" font-weight="bold" fill="#000">May</text><text x="1628.11" y="884.6" font-size="18" font-weight="bold" fill="#000">5/7</text><text x="1671.13" y="884.6" font-size="18" font-weight="bold" fill="#000">5/13</text><text x="1719.04" y="884.6" font-size="18" font-weight="bold" fill="#000">5/19</text><text x="1765.15" y="884.6" font-size="18" font-weight="bold" fill="#000">5/24</text><path d="M1832.5 325.6L1839 315.1H1906V336.1H1839Z" fill="#ff1c1c"/><text transform="translate(1839.89,331.89) scale(1.0061,1)" font-size="17.46" font-weight="bold" font-style="normal" fill="#ffffff">1,646.1</text><path d="M1832.5 487.4L1839 476.9H1906V497.9H1839Z" fill="#1c1cff"/><text transform="translate(1839.85,493.91) scale(0.9759,1)" font-size="18.63" font-weight="bold" font-style="normal" fill="#ffffff">1,579.5</text><path d="M1832.5 629.6L1839 619.1H1906V640.1H1839Z" fill="#ff00ff"/><path d="M1832.5 647.4L1839 636.9H1906V657.9H1839Z" fill="#ff00ff"/><text transform="translate(1839.85,635.7) scale(1.0879,1)" font-size="16.75" font-weight="bold" font-style="normal" fill="#ffffff">1,524.3</text><text transform="translate(1839.85,653.52) scale(1.0972,1)" font-size="16.63" font-weight="bold" font-style="normal" fill="#ffffff">1,514.0</text><path d="M1848.3 633.9L1853 623.1H1905V644.7H1853Z" fill="#3f3a55"/><defs><clipPath id="dl"><path d="M1848.3 633.9L1853 623.1H1905V644.7H1853Z"/></clipPath></defs><g clip-path="url(#dl)"><text transform="translate(1839.85,635.7) scale(1.0879,1)" font-size="16.75" font-weight="bold" font-style="normal" fill="#3a6a4a" opacity="0.6">1,524.3</text></g><text transform="translate(1854.36,640.82) scale(0.9947,1)" font-size="18.5" font-weight="bold" font-style="normal" fill="#ffffff">2.79</text><defs><linearGradient id="tg" x1="0" x2="1" y1="0" y2="0"><stop offset="0" stop-color="#5e5e5e"/><stop offset="0.6" stop-color="#8a8a8a"/><stop offset="1" stop-color="#6a6a6a"/></linearGradient><clipPath id="plot"><rect x="0" y="0" width="1833" height="861"/></clipPath></defs><defs><linearGradient id="tg2" x1="0" x2="1" y1="0" y2="0"><stop offset="0" stop-color="#6e6e6e"/><stop offset="1" stop-color="#979797"/></linearGradient></defs><rect x="0" y="359" width="14" height="113" fill="#5f5f5f"/><rect x="0" y="360" width="13" height="111" fill="url(#tg2)"/><text transform="translate(7.6,455) rotate(-90) scale(1.36,1)" font-size="9.8" fill="#eeeeee">TradingApps</text></svg></body></html>
